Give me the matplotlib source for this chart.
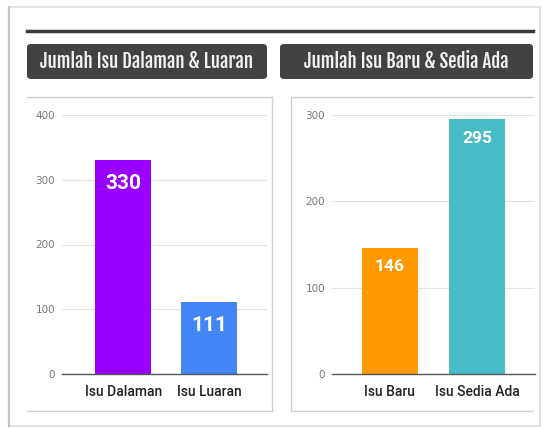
import matplotlib.pyplot as plt
from matplotlib.patches import FancyBboxPatch, Rectangle
from matplotlib.lines import Line2D

# data
left_title = 'Jumlah Isu Dalaman & Luaran'
left_cats = ['Isu Dalaman', 'Isu Luaran']
left_vals = [330, 111]
left_colors = ['#9900ff', '#4285f4']
left_ticks = [0, 100, 200, 300, 400]

right_title = 'Jumlah Isu Baru & Sedia Ada'
right_cats = ['Isu Baru', 'Isu Sedia Ada']
right_vals = [146, 295]
right_colors = ['#ff9900', '#46bdc6']
right_ticks = [0, 100, 200, 300]

W, H = 545, 429
fig = plt.figure(figsize=(W / 100, H / 100), dpi=100)
fig.patch.set_facecolor('white')

title_font = ['Fjalla One', 'Liberation Sans Narrow', 'DejaVu Sans']
label_font = ['Roboto', 'DejaVu Sans']


def fx(px):
    return px / W


def fy(py):
    return 1 - py / H


def hline(x0, x1, y, color, lw):
    fig.add_artist(Line2D([fx(x0), fx(x1)], [fy(y), fy(y)], color=color, lw=lw,
                          transform=fig.transFigure, zorder=-1))


def vline(x, y0, y1, color, lw):
    fig.add_artist(Line2D([fx(x), fx(x)], [fy(y0), fy(y1)], color=color, lw=lw,
                          transform=fig.transFigure, zorder=-1))


# outer card
fig.add_artist(Rectangle((fx(9), fy(426)), fx(540 - 9), (426 - 7) / H, transform=fig.transFigure,
                         facecolor='none', edgecolor='#dcdcdc', lw=1.2, zorder=-2))
vline(9, 7, 426, '#c4c4c4', 1.6)

# top dark rule
hline(27, 533, 31, '#3a3a3a', 2.5)

# title boxes
for x0, x1, txt in [(27, 267, left_title), (280, 533, right_title)]:
    fig.add_artist(FancyBboxPatch((fx(x0), fy(79)), fx(x1 - x0), 35 / H,
                                  boxstyle='round,pad=0,rounding_size=0.008',
                                  transform=fig.transFigure, facecolor='#424242', edgecolor='none'))
    fig.text(fx((x0 + x1) / 2), fy(61.5), txt, color='#f2f2f2', fontsize=13.5,
             family=title_font, ha='center', va='center')

# panel borders
hline(27, 272, 97, '#d0d0d0', 1.0)
hline(27, 272, 411, '#d0d0d0', 1.0)
vline(272, 97, 411, '#d0d0d0', 1.0)
hline(291, 533, 97, '#d0d0d0', 1.0)
hline(291, 533, 411, '#d0d0d0', 1.0)
vline(291, 97, 411, '#d0d0d0', 1.0)


def draw_chart(rect, cats, vals, colors, ticks, xlim, width, vsize, voff):
    ax = fig.add_axes(rect)
    ax.patch.set_alpha(0)
    x = list(range(len(cats)))
    bars = ax.bar(x, vals, width=width, color=colors, zorder=3)
    ax.set_xlim(*xlim)
    ax.set_ylim(ticks[0], ticks[-1])
    ax.set_yticks(ticks)
    ax.set_xticks(x)
    ax.set_xticklabels(cats, fontsize=10, color='#222222', family=label_font, fontweight='medium')
    ax.tick_params(axis='y', length=0, labelsize=7.5, labelcolor='#777777', pad=5)
    ax.tick_params(axis='x', length=0, pad=8)
    ax.grid(axis='y', color='#e3e3e3', lw=0.8, zorder=0)
    for s in ['top', 'right', 'left']:
        ax.spines[s].set_visible(False)
    ax.spines['bottom'].set_color('#555555')
    ax.spines['bottom'].set_linewidth(1.0)
    ax.spines['bottom'].set_zorder(4)
    for b, v in zip(bars, vals):
        ax.annotate(str(v), (b.get_x() + b.get_width() / 2, v), xytext=(0, -voff),
                    textcoords='offset pixels', ha='center', va='center',
                    color='white', fontsize=vsize, fontweight='bold', family=label_font, zorder=5)
    return ax


draw_chart([fx(62), fy(374), fx(267 - 62), (374 - 115) / H], left_cats, left_vals,
           left_colors, left_ticks, (-0.71, 1.67), 0.65, 15, 23)
draw_chart([fx(332), fy(374), fx(535 - 332), (374 - 115) / H], right_cats, right_vals,
           right_colors, right_ticks, (-0.66, 1.66), 0.64, 12.5, 19)

fig.savefig('out.png', dpi=100, facecolor='white')
